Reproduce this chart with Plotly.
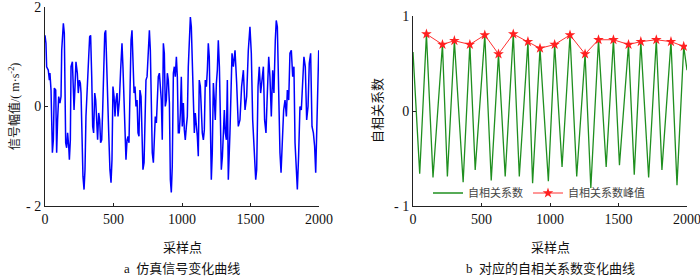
import plotly.graph_objects as go

# ---- data: simulated signal (vertices) ----
signal_x = [0, 7, 12, 24, 32, 36, 44, 49, 54, 61, 66, 68, 78, 80, 85, 92, 100, 109, 117, 122,
            129, 134, 141, 146, 151, 158, 165, 173, 178, 185, 190, 200, 207, 212, 219, 226, 236, 243, 251, 258,
            263, 270, 277, 285, 292, 299, 304, 311, 319, 326, 333, 341, 348, 355, 363, 370, 377, 384, 392, 399,
            406, 414, 421, 428, 436, 443, 450, 457, 465, 474, 482, 489, 496, 504, 511, 518, 526, 533, 543, 552,
            562, 569, 577, 584, 591, 599, 606, 613, 620, 628, 635, 642, 650, 657, 664, 672, 679, 686, 693, 701,
            708, 715, 723, 730, 737, 745, 752, 762, 769, 776, 783, 791, 798, 805, 813, 820, 827, 835, 842, 849,
            856, 864, 871, 878, 886, 893, 900, 908, 915, 922, 929, 937, 944, 951, 959, 966, 973, 980, 988, 995,
            1002, 1010, 1017, 1024, 1032, 1039, 1046, 1053, 1061, 1068, 1075, 1083, 1090, 1097, 1105, 1112, 1119, 1126, 1134, 1141,
            1148, 1156, 1163, 1170, 1178, 1185, 1192, 1199, 1207, 1214, 1221, 1229, 1236, 1243, 1251, 1258, 1265, 1273, 1280, 1287,
            1295, 1302, 1309, 1316, 1324, 1331, 1338, 1350, 1358, 1365, 1375, 1387, 1399, 1411, 1423, 1435, 1448, 1460, 1472, 1484,
            1496, 1506, 1516, 1528, 1538, 1545, 1555, 1564, 1574, 1584, 1594, 1603, 1613, 1623, 1633, 1642, 1652, 1662, 1671, 1681,
            1688, 1696, 1706, 1715, 1723, 1732, 1742, 1752, 1762, 1769, 1779, 1788, 1798, 1808, 1817, 1825, 1834, 1842, 1851, 1861,
            1871, 1881, 1890, 1900, 1910, 1920, 1929, 1939, 1949, 1959, 1968, 1976, 1983, 1990, 1998]
signal_y = [1.43, 1.27, 0.80, 0.73, 0.53, 0.67, 0.33, -0.60, -0.93, -0.67, -0.07, 0.37, 0.33, -0.73, -0.93, -0.27, 0.20, 0.07, 0.20, 1.13,
            1.50, 1.67, 1.47, -0.07, -0.73, -0.83, -0.53, -0.80, -1.07, -0.67, 0.80, 0.90, 0.13, -0.07, 0.40, 0.90, 0.67, 0.27, 0.53, 0.47,
            0.27, -0.53, -1.40, -1.67, -1.27, -0.20, 0.20, 0.47, 1.00, 1.40, 1.43, 0.60, -0.40, -0.53, 0.27, 0.13, -0.40, -0.67, -0.13, -0.27,
            -0.73, -0.67, -0.07, 0.60, 1.47, 1.53, 0.73, 0.40, -0.53, -1.27, -1.53, -1.07, 0.40, 0.20, -0.20, 0.13, 0.27, -0.20, 0.13, 0.73,
            1.27, 0.80, 0.13, -0.87, -1.07, -0.67, -0.60, -0.73, 0.33, 1.33, 1.53, 0.80, 0.27, 0.40, 0.00, 0.13, -0.53, -0.60, 0.33, 0.20,
            -0.67, -1.27, -1.13, -0.20, 0.53, 0.60, 1.00, 1.53, 1.13, 0.13, -0.93, -1.13, -0.40, -0.20, -0.33, 0.13, 0.60, 0.67, 0.33, 0.13,
            -0.67, 1.27, 1.07, 0.00, 0.13, 0.67, 0.53, 0.07, -1.47, -1.73, -1.20, 0.67, 0.80, 0.60, 1.00, 0.60, -0.53, -0.53, -0.13, 0.60,
            -0.40, 0.07, -0.47, -0.67, -0.40, -0.20, 0.80, 1.33, 1.80, 1.60, 0.73, 0.07, -0.53, -0.13, -0.33, -0.60, -1.00, 0.53, 0.40, 0.00,
            -0.53, -0.67, -0.47, 0.53, 0.40, 0.73, 1.27, 1.00, -0.20, -1.47, -0.93, 0.47, 0.13, -0.27, 0.47, 0.73, 1.33, 0.80, -0.20, -1.27,
            -1.00, -0.33, -0.07, -0.53, -0.67, 0.53, -1.47, -0.53, 0.47, 1.07, 0.80, 1.13, 0.47, -0.40, -0.27, 0.40, 0.73, -0.07, 0.20, 1.13,
            1.60, 1.07, -0.27, -0.80, -1.47, -1.27, 0.40, 0.80, 0.27, 0.53, 0.80, -0.27, -0.53, 0.27, 1.00, 0.60, -0.20, 0.73, 0.27, 1.33,
            1.73, 1.60, 0.13, -0.93, -1.33, -0.80, -0.07, 0.13, -0.20, 0.33, 0.13, 1.07, 1.13, 0.60, 0.80, -0.73, -1.27, -1.67, -1.00, 0.00,
            -0.07, 0.47, 1.00, 0.80, -0.27, 0.00, 0.87, 1.07, -0.40, -0.53, -0.80, -1.33, -0.53, 0.80, 1.13]

# ---- data: autocorrelation curve (vertices) ----
acf_x = [0, 49, 98, 146, 215, 251, 302, 366, 415, 454, 524, 571, 624, 673, 732, 776, 839, 873, 927, 988,
         1034, 1088, 1146, 1195, 1256, 1298, 1354, 1410, 1463, 1507, 1573, 1615, 1663, 1720, 1776, 1817, 1883, 1927, 1976, 2000]
acf_y = [0.62, -0.66, 0.81, -0.70, 0.70, -0.69, 0.74, -0.75, 0.70, -0.62, 0.80, -0.73, 0.60, -0.69, 0.81, -0.69, 0.73, -0.76, 0.66, -0.74,
         0.70, -0.59, 0.80, -0.69, 0.60, -0.81, 0.75, -0.59, 0.75, -0.57, 0.70, -0.67, 0.73, -0.70, 0.75, -0.62, 0.73, -0.78, 0.68, 0.43]

# ---- data: autocorrelation peaks ----
peak_x = [98, 215, 302, 415, 524, 624, 732, 839, 927, 1034, 1146, 1256, 1354, 1463, 1573, 1663, 1776, 1883, 1976]
peak_y = [0.81, 0.70, 0.74, 0.70, 0.80, 0.60, 0.81, 0.73, 0.66, 0.70, 0.80, 0.60, 0.75, 0.75, 0.70, 0.73, 0.75, 0.73, 0.68]

x_ticks = [0, 500, 1000, 1500, 2000]
left_y_ticks = [-2, 0, 2]
left_y_labels = ["- 2", "0", "2"]
right_y_ticks = [-1, 0, 1]
right_y_labels = ["- 1", "0", "1"]

W, H = 700, 278
FONT = "Liberation Serif, Noto Sans CJK SC, serif"

fig = go.Figure()
fig.add_trace(go.Scatter(x=signal_x, y=signal_y, mode="lines",
                         line=dict(color="#0000ff", width=1.5), showlegend=False,
                         xaxis="x", yaxis="y"))
fig.add_trace(go.Scatter(x=acf_x, y=acf_y, mode="lines", name="自相关系数",
                         line=dict(color="#1f8f1f", width=1.3),
                         xaxis="x2", yaxis="y2", legend="legend"))
fig.add_trace(go.Scatter(x=peak_x, y=peak_y, mode="lines+markers", name="自相关系数峰值",
                         line=dict(color="#ff3030", width=1),
                         marker=dict(symbol="star", size=8, color="#ff2020",
                                     line=dict(width=0)),
                         xaxis="x2", yaxis="y2", legend="legend2"))

def px_x(p):
    return p / W

def px_y(p):
    return 1 - p / H

axis_common = dict(showgrid=False, zeroline=False, showline=True, linecolor="#222222",
                   linewidth=1, ticks="inside", ticklen=3, tickcolor="#222222",
                   automargin=False, ticklabeloverflow="allow",
                   tickfont=dict(family=FONT, size=14, color="#111111"))

legend_common = dict(orientation="h", y=px_y(193), xanchor="left", yanchor="middle",
                     bgcolor="rgba(0,0,0,0)", font=dict(family=FONT, size=11, color="#444444"),
                     itemwidth=30)

fig.update_layout(
    width=W, height=H, template="none",
    margin=dict(l=0, r=0, t=0, b=0),
    paper_bgcolor="white", plot_bgcolor="white",
    font=dict(family=FONT, size=13, color="#111111"),
    xaxis=dict(domain=[px_x(45), px_x(319)], range=[0, 2000], tickvals=x_ticks,
               anchor="y", **axis_common),
    yaxis=dict(domain=[px_y(206), px_y(7)], range=[-2, 2], tickvals=left_y_ticks,
               ticktext=left_y_labels, anchor="x", **axis_common),
    xaxis2=dict(domain=[px_x(413), px_x(687)], range=[0, 2000], tickvals=x_ticks,
                anchor="y2", **axis_common),
    yaxis2=dict(domain=[px_y(206), px_y(16)], range=[-1, 1], tickvals=right_y_ticks,
                ticktext=right_y_labels, anchor="x2", **axis_common),
    legend=dict(x=px_x(428), **legend_common),
    legend2=dict(x=px_x(528), **legend_common),
)

annots = [
    dict(text="采样点", x=px_x(182), y=px_y(247), size=13),
    dict(text="采样点", x=px_x(550), y=px_y(247), size=13),
    dict(text="a  仿真信号变化曲线", x=px_x(182), y=px_y(268), size=13),
    dict(text="b  对应的自相关系数变化曲线", x=px_x(550), y=px_y(268), size=13),
    dict(text="信号幅值/( m·s<sup>-2</sup>)", x=px_x(14), y=px_y(107), textangle=-90, size=12),
    dict(text="自相关系数", x=px_x(378), y=px_y(111), textangle=-90, size=13),
]
for a in annots:
    sz = a.pop("size")
    fig.add_annotation(xref="paper", yref="paper", showarrow=False,
                       xanchor="center", yanchor="middle",
                       font=dict(family=FONT, size=sz, color="#111111"), **a)

fig.write_html("out.html", config={"displayModeBar": False})

# remove the browser's default body margin so the figure sits at the page origin
with open("out.html", "r", encoding="utf-8") as f:
    html = f.read()
html = html.replace("<head>", "<head><style>html,body{margin:0;padding:0;overflow:hidden;}</style>", 1)
with open("out.html", "w", encoding="utf-8") as f:
    f.write(html)
